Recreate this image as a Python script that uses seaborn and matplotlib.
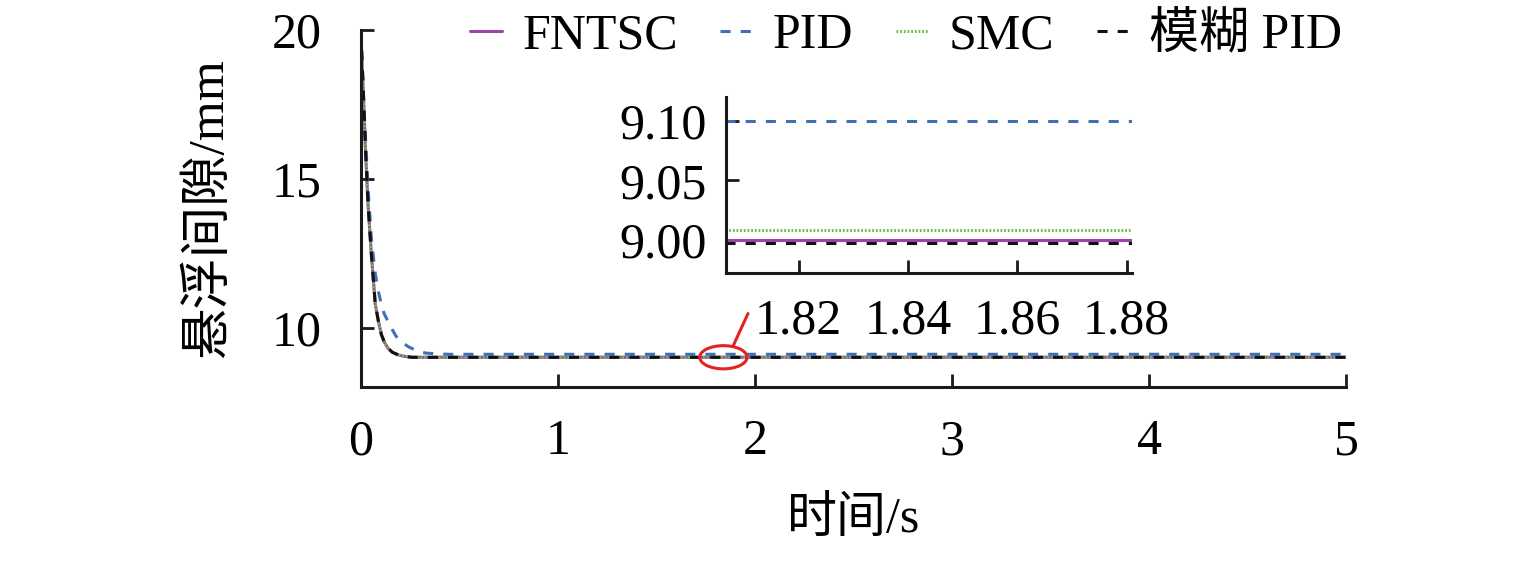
import numpy as np
import matplotlib
matplotlib.use('Agg')
import matplotlib.pyplot as plt
from matplotlib.patches import Ellipse
import seaborn as sns

# values (time in s, gap in mm)
t_fntsc = [0, 0.012, 0.025, 0.037, 0.054, 0.074, 0.09, 0.105, 0.12, 0.139, 0.16, 0.19, 0.22, 0.26, 0.3, 1, 2, 3, 4, 5]
v_fntsc = [20, 18.1, 15.85, 14.15, 12.46, 10.77, 10.2, 9.76, 9.5, 9.3, 9.17, 9.08, 9.03, 9.0, 9.0, 9.0, 9.0, 9.0, 9.0, 9.0]
v_smc = [20, 18.1, 15.85, 14.15, 12.46, 10.77, 10.2, 9.76, 9.5, 9.3, 9.17, 9.08, 9.035, 9.008, 9.008, 9.008, 9.008, 9.008, 9.008, 9.008]
v_fuzzy = [20, 18.1, 15.85, 14.15, 12.46, 10.77, 10.2, 9.76, 9.5, 9.3, 9.17, 9.08, 9.03, 8.998, 8.997, 8.997, 8.997, 8.997, 8.997, 8.997]

t_pid = [0, 0.02, 0.037, 0.054, 0.074, 0.09, 0.105, 0.12, 0.139, 0.16, 0.18, 0.21, 0.24, 0.28, 0.33, 0.4, 0.45, 1, 2, 3, 4, 5]
v_pid = [20, 16.96, 14.7, 13.0, 11.8, 11.2, 10.77, 10.45, 10.2, 9.93, 9.7, 9.5, 9.36, 9.23, 9.14, 9.11, 9.1, 9.1, 9.1, 9.1, 9.1, 9.1]

labels = ['FNTSC', 'PID', 'SMC', '模糊 PID']
colors = ['#9b45a8', '#3f6fb5', '#6cc34a', '#111111']

sns.set_style('ticks')
plt.rcParams['font.family'] = ['Liberation Serif', 'Noto Sans CJK SC']
plt.rcParams['axes.unicode_minus'] = False
plt.rcParams['text.color'] = 'black'
plt.rcParams['axes.labelcolor'] = 'black'
plt.rcParams['xtick.color'] = 'black'
plt.rcParams['ytick.color'] = 'black'

fig = plt.figure(figsize=(15.35, 5.63), dpi=100)
ax = fig.add_axes([0.235, 0.3126, 0.642, 0.634])
ins = fig.add_axes([0.473, 0.515, 0.2645, 0.3126])

fs = 36
lw = 2.2
styles = {
    'FNTSC': dict(linestyle='-'),
    'PID': dict(linestyle=(0, (3.3, 3.3))),
    'SMC': dict(linestyle=(0, (0.6, 0.6))),
    '模糊 PID': dict(linestyle=(0, (3.3, 3.3))),
}
series = [('FNTSC', t_fntsc, v_fntsc), ('SMC', t_fntsc, v_smc),
          ('PID', t_pid, v_pid), ('模糊 PID', t_fntsc, v_fuzzy)]
cmap = dict(zip(labels, colors))

for a in (ax, ins):
    for name, t, v in series:
        sns.lineplot(x=t, y=v, ax=a, color=cmap[name], linewidth=lw,
                     sort=False, estimator=None, label=name if a is ax else None,
                     **styles[name])
    sns.despine(ax=a)
    for s in ('left', 'bottom'):
        a.spines[s].set_linewidth(2.2)
        a.spines[s].set_color('#1a1a1a')
    a.tick_params(direction='in', length=9.5, width=2.0, labelsize=fs,
                  color='#1a1a1a', labelcolor='black')
    a.set_xlabel('')
    a.set_ylabel('')

ax.set_xlim(0, 5)
ax.set_ylim(8, 20)
ax.set_xticks([0, 1, 2, 3, 4, 5])
ax.set_yticks([10, 15, 20])
ax.tick_params(axis='x', pad=23)
ax.tick_params(axis='y', pad=28)
ax.set_xlabel('时间/s', fontsize=fs, labelpad=22)
ax.set_ylabel('悬浮间隙/mm', fontsize=fs + 1, labelpad=28)

ins.set_xlim(1.8067, 1.881)
ins.set_ylim(8.972, 9.12)
ins.set_xticks([1.82, 1.84, 1.86, 1.88])
ins.set_xticklabels(['1.82', '1.84', '1.86', '1.88'])
ins.set_yticks([9.00, 9.05, 9.10])
ins.set_yticklabels(['9.00', '9.05', '9.10'])
ins.tick_params(axis='x', pad=18)
ins.tick_params(axis='y', pad=14)
ins.patch.set_alpha(0)

# red mark around the zoomed region
ax.add_patch(Ellipse((1.84, 9.0), 0.24, 0.78, fill=False, edgecolor='#e32322', linewidth=2.2, zorder=5))
ax.plot([1.888, 1.965], [9.36, 10.47], color='#e32322', linewidth=2.2, zorder=5)

h, l = ax.get_legend_handles_labels()
order = [l.index(n) for n in labels]
ax.legend([h[i] for i in order], [l[i] for i in order], loc='center right',
          bbox_to_anchor=(1342 / 1535, 1 - 36 / 563), bbox_transform=fig.transFigure,
          ncol=4, frameon=False, fontsize=fs, handlelength=0.65, handletextpad=0.4,
          columnspacing=0.85, borderpad=0, borderaxespad=0)

fig.savefig('out.png', dpi=100)
